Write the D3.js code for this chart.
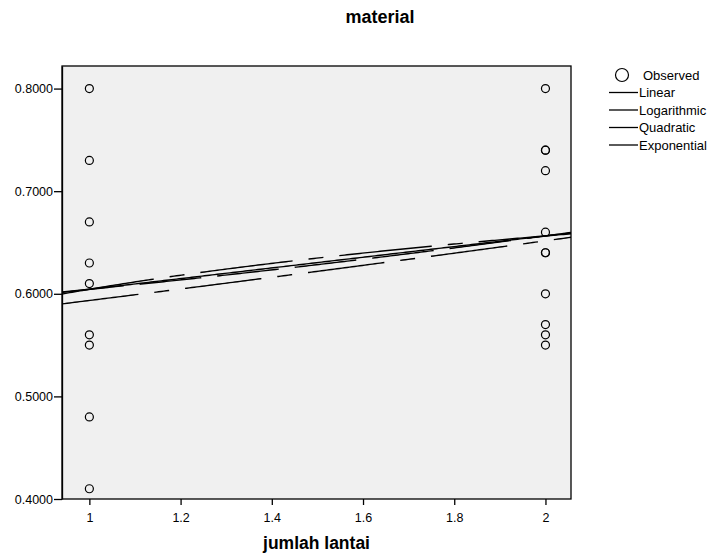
<!DOCTYPE html>
<html>
<head>
<meta charset="utf-8">
<script src="https://cdn.jsdelivr.net/npm/d3@7"></script>
<style>
  html, body { margin: 0; padding: 0; background: #ffffff; }
  text { font-family: "Liberation Sans", Arial, sans-serif; fill: #000; }
</style>
</head>
<body>
<svg id="chart" width="714" height="554"></svg>
<script>
// ---- data ----
const title = "material";
const xLabel = "jumlah lantai";
const xGroup1 = 1;
const xGroup2 = 2;
const observed1 = [0.80, 0.73, 0.67, 0.63, 0.61, 0.56, 0.55, 0.48, 0.41];
const observed2 = [0.80, 0.74, 0.74, 0.72, 0.66, 0.64, 0.64, 0.60, 0.57, 0.56, 0.55];
const xTicks = [1, 1.2, 1.4, 1.6, 1.8, 2];
const yTicks = [0.4, 0.5, 0.6, 0.7, 0.8];
const legendNames = ["Observed", "Linear", "Logarithmic", "Quadratic", "Exponential"];
// fitted model coefficients (estimated)
const linearCoef = [0.5524, 0.0520];          // b0 + b1 x
const logCoef = [0.6044, 0.0750];             // b0 + b1 ln x
const quadCoef = [0.5684, 0.0280, 0.0080];    // b0 + b1 x + b2 x^2
const expCoef = [0.5405, 0.0935];             // b0 * exp(b1 x)

const svg = d3.select("#chart");
const plot = { left: 62, right: 571, top: 66, bottom: 499 };

const x = d3.scaleLinear().domain([0.94, 2.056]).range([plot.left, plot.right]);
const y = d3.scaleLinear().domain([0.4, 0.822]).range([plot.bottom, plot.top]);

// background
svg.append("rect")
  .attr("x", plot.left).attr("y", plot.top)
  .attr("width", plot.right - plot.left).attr("height", plot.bottom - plot.top)
  .attr("fill", "#f0f0f0").attr("stroke", "#000").attr("stroke-width", 1.3);

// title
svg.append("text").attr("x", 380).attr("y", 23)
  .attr("text-anchor", "middle").attr("font-weight", "bold").attr("font-size", 18)
  .text(title);

// axes
const yAxis = d3.axisLeft(y).tickValues(yTicks).tickFormat(d3.format(".4f")).tickSize(8).tickSizeOuter(0);
const gy = svg.append("g").attr("transform", `translate(${plot.left},0)`).call(yAxis);
gy.select(".domain").attr("stroke", "#000").attr("stroke-width", 1.3);
gy.selectAll(".tick line").attr("stroke", "#000").attr("stroke-width", 1.3);
gy.selectAll(".tick text").attr("font-size", 12.5).attr("x", -9)
  .style("font-family", "'Liberation Sans', Arial, sans-serif");

const xAxis = d3.axisBottom(x).tickValues(xTicks).tickFormat(d => d3.format("")(d)).tickSize(6).tickSizeOuter(0);
const gx = svg.append("g").attr("transform", `translate(0,${plot.bottom})`).call(xAxis);
gx.select(".domain").remove();
gx.selectAll(".tick line").attr("stroke", "#000").attr("stroke-width", 1.3);
gx.selectAll(".tick text").attr("font-size", 12.5).attr("y", 14)
  .style("font-family", "'Liberation Sans', Arial, sans-serif");

svg.append("text").attr("x", (plot.left + plot.right) / 2).attr("y", 549)
  .attr("text-anchor", "middle").attr("font-weight", "bold").attr("font-size", 17.5)
  .text(xLabel);

// fitted curves
const xs = d3.range(0, 201).map(i => 0.94 + (2.056 - 0.94) * i / 200);
const models = [
  { name: "Linear", f: v => linearCoef[0] + linearCoef[1] * v, dash: null },
  { name: "Logarithmic", f: v => logCoef[0] + logCoef[1] * Math.log(v), dash: "93,16,15,16" },
  { name: "Quadratic", f: v => quadCoef[0] + quadCoef[1] * v + quadCoef[2] * v * v, dash: "62,16" },
  { name: "Exponential", f: v => expCoef[0] * Math.exp(expCoef[1] * v), dash: "77,16,15,16" }
];
const line = d3.line().x(d => x(d[0])).y(d => y(d[1]));
svg.append("clipPath").attr("id", "clip").append("rect")
  .attr("x", plot.left).attr("y", plot.top)
  .attr("width", plot.right - plot.left).attr("height", plot.bottom - plot.top);
const gLines = svg.append("g").attr("clip-path", "url(#clip)");
models.forEach(m => {
  gLines.append("path")
    .attr("d", line(xs.map(v => [v, m.f(v)])))
    .attr("fill", "none").attr("stroke", "#000").attr("stroke-width", 1.4)
    .attr("stroke-dasharray", m.dash);
});

// observed points
const pts = observed1.map(v => [xGroup1, v]).concat(observed2.map(v => [xGroup2, v]));
svg.append("g").selectAll("circle").data(pts).join("circle")
  .attr("cx", d => x(d[0])).attr("cy", d => y(d[1])).attr("r", 4)
  .attr("fill", "none").attr("stroke", "#000").attr("stroke-width", 1.2);

// legend
const lg = svg.append("g");
const rowY = i => 75 + i * 17.5;
legendNames.forEach((n, i) => {
  if (i === 0) {
    lg.append("circle").attr("cx", 622).attr("cy", rowY(i)).attr("r", 6.5)
      .attr("fill", "none").attr("stroke", "#000").attr("stroke-width", 1.2);
  } else {
    lg.append("line").attr("x1", 609).attr("x2", 638).attr("y1", rowY(i)).attr("y2", rowY(i))
      .attr("stroke", "#000").attr("stroke-width", 1.3);
  }
  lg.append("text").attr("x", i === 0 ? 643 : 639).attr("y", rowY(i)).attr("dy", "0.35em")
    .attr("font-size", 13).text(n);
});
</script>
</body>
</html>
